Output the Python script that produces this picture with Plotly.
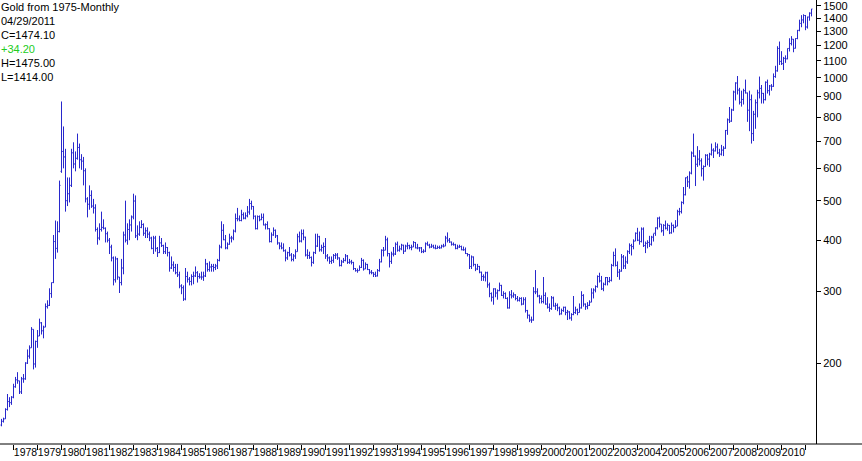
import plotly.graph_objects as go

# ---- monthly gold OHLC, Jul 1977 .. Apr 2011 ----
first_year, first_month = 1977, 7

opens = [
    141, 144, 146, 154, 161, 160,
    165, 175, 182, 181, 170, 183, 183, 200, 208, 218, 242, 199,
    226, 233, 251, 240, 245, 275, 277, 296, 315, 397, 382, 420,
    590, 660, 640, 500, 520, 545, 655, 615, 635, 675, 630, 625,
    592, 505, 490, 515, 485, 480, 425, 405, 425, 430, 428, 415,
    400, 385, 362, 320, 360, 325, 315, 342, 412, 400, 425, 436,
    456, 499, 410, 414, 430, 437, 416, 422, 414, 405, 382, 405,
    382, 373, 394, 388, 375, 384, 373, 342, 348, 343, 333, 329,
    309, 306, 287, 326, 321, 317, 326, 327, 333, 326, 325, 325,
    327, 350, 339, 344, 345, 343, 346, 357, 385, 423, 401, 383,
    391, 405, 405, 421, 452, 451, 447, 462, 453, 459, 469, 492,
    484, 458, 427, 457, 449, 455, 436, 437, 427, 397, 412, 423,
    410, 394, 387, 383, 377, 362, 373, 368, 359, 366, 375, 408,
    398, 415, 407, 368, 367, 363, 353, 373, 387, 408, 379, 384,
    386, 366, 362, 355, 357, 367, 368, 362, 347, 354, 357, 366,
    353, 354, 353, 341, 337, 337, 343, 357, 340, 349, 339, 334,
    333, 330, 327, 337, 354, 378, 378, 401, 371, 355, 370, 370,
    391, 378, 381, 389, 376, 387, 388, 384, 385, 395, 383, 383,
    383, 375, 376, 392, 389, 385, 387, 383, 382, 384, 383, 387,
    387, 405, 400, 396, 391, 390, 382, 385, 386, 379, 379, 371,
    369, 345, 364, 349, 340, 345, 334, 326, 325, 333, 311, 296,
    290, 304, 297, 301, 310, 293, 296, 288, 273, 294, 292, 294,
    288, 285, 288, 279, 286, 269, 262, 255, 255, 299, 299, 292,
    288, 283, 293, 279, 274, 272, 289, 276, 277, 273, 264, 269,
    274, 266, 267, 258, 263, 266, 270, 266, 273, 293, 279, 275,
    277, 282, 297, 302, 308, 326, 318, 304, 312, 324, 317, 319,
    347, 367, 347, 334, 336, 364, 346, 354, 375, 388, 386, 398,
    416, 400, 397, 426, 388, 393, 395, 391, 407, 416, 429, 453,
    438, 422, 435, 428, 435, 417, 435, 430, 433, 470, 470, 495,
    517, 569, 556, 584, 654, 643, 614, 632, 626, 599, 606, 646,
    632, 650, 665, 662, 677, 655, 650, 665, 672, 743, 789, 783,
    834, 923, 971, 933, 871, 885, 930, 918, 833, 884, 730, 814,
    869, 919, 942, 916, 884, 975, 930, 955, 953, 1007, 1040, 1180,
    1097, 1083, 1116, 1113, 1180, 1213, 1243, 1181, 1248, 1307, 1359, 1386,
    1421, 1332, 1409, 1439.9,
]

highs = [
    146, 147, 155, 168, 165, 166,
    178, 185, 190, 181, 185, 188, 201, 216, 221, 245, 242, 227,
    241, 257, 252, 247, 280, 285, 305, 315, 412, 447, 445, 560,
    875, 760, 670, 570, 570, 670, 695, 660, 730, 690, 650, 640,
    600, 510, 545, 530, 505, 490, 430, 440, 470, 450, 430, 420,
    405, 390, 365, 365, 362, 325, 360, 420, 500, 440, 450, 460,
    520, 515, 435, 445, 448, 440, 430, 430, 420, 408, 410, 410,
    385, 410, 405, 390, 395, 385, 375, 365, 355, 350, 350, 335,
    312, 310, 342, 335, 325, 330, 335, 345, 336, 332, 335, 335,
    360, 352, 355, 350, 350, 350, 360, 390, 445, 438, 412, 395,
    415, 410, 425, 465, 480, 460, 475, 468, 468, 485, 505, 500,
    485, 460, 460, 460, 465, 465, 440, 445, 428, 418, 430, 425,
    412, 395, 395, 393, 380, 375, 385, 372, 370, 380, 415, 420,
    425, 425, 408, 380, 375, 365, 375, 415, 415, 410, 390, 395,
    405, 370, 365, 365, 370, 372, 372, 363, 358, 362, 370, 368,
    360, 358, 354, 342, 341, 347, 362, 359, 353, 350, 340, 338,
    334, 335, 340, 360, 380, 385, 410, 406, 372, 375, 385, 395,
    397, 388, 392, 390, 390, 395, 390, 390, 398, 396, 392, 385,
    385, 380, 395, 397, 392, 392, 390, 390, 388, 388, 390, 392,
    410, 418, 405, 397, 395, 392, 390, 390, 388, 386, 384, 372,
    370, 367, 365, 350, 350, 346, 335, 330, 335, 335, 315, 298,
    305, 305, 303, 315, 311, 300, 298, 290, 300, 302, 298, 295,
    292, 290, 290, 290, 290, 270, 263, 260, 307, 338, 305, 294,
    293, 325, 298, 290, 280, 292, 291, 281, 280, 275, 272, 275,
    275, 270, 268, 265, 292, 275, 272, 280, 300, 295, 280, 282,
    285, 305, 305, 310, 328, 333, 327, 315, 325, 325, 325, 350,
    375, 382, 355, 340, 370, 368, 365, 378, 393, 392, 402, 418,
    429, 420, 430, 430, 397, 400, 410, 410, 415, 430, 455, 457,
    438, 438, 447, 440, 436, 442, 437, 448, 475, 480, 498, 540,
    570, 575, 590, 660, 730, 645, 680, 665, 635, 610, 650, 650,
    655, 690, 672, 695, 690, 670, 685, 680, 745, 795, 848, 840,
    930, 975, 1010, 945, 930, 940, 990, 920, 930, 910, 830, 885,
    935, 1007, 960, 918, 980, 990, 960, 965, 1025, 1070, 1195, 1227,
    1162, 1125, 1135, 1180, 1250, 1265, 1245, 1250, 1310, 1388, 1424, 1431,
    1425, 1412, 1447, 1475,
]

lows = [
    140, 143, 146, 153, 156, 158,
    164, 174, 178, 168, 168, 179, 182, 199, 205, 218, 193, 195,
    218, 233, 235, 230, 245, 272, 276, 289, 314, 360, 373, 418,
    585, 600, 470, 485, 495, 540, 600, 590, 630, 600, 595, 545,
    495, 455, 475, 480, 465, 420, 390, 400, 420, 425, 395, 395,
    370, 355, 310, 315, 320, 297, 310, 330, 395, 390, 400, 420,
    450, 405, 400, 410, 428, 410, 405, 405, 398, 380, 370, 375,
    364, 372, 385, 370, 370, 365, 335, 340, 335, 330, 325, 305,
    295, 284, 285, 315, 310, 310, 312, 325, 315, 322, 320, 318,
    325, 335, 335, 335, 335, 338, 340, 355, 382, 400, 380, 380,
    390, 395, 400, 418, 445, 445, 445, 450, 450, 455, 462, 475,
    450, 425, 425, 445, 448, 435, 425, 425, 395, 395, 410, 405,
    390, 380, 380, 375, 355, 358, 365, 355, 355, 360, 375, 395,
    395, 400, 365, 360, 360, 345, 350, 370, 385, 375, 375, 370,
    360, 355, 350, 350, 352, 360, 358, 345, 345, 352, 355, 350,
    350, 349, 338, 335, 333, 337, 342, 337, 340, 338, 330, 330,
    325, 325, 326, 335, 353, 365, 378, 365, 343, 350, 365, 368,
    375, 375, 378, 370, 375, 380, 380, 378, 385, 382, 380, 375,
    372, 372, 374, 388, 382, 383, 382, 380, 381, 381, 382, 384,
    387, 395, 394, 388, 388, 380, 380, 383, 378, 377, 370, 365,
    340, 340, 345, 336, 338, 332, 318, 318, 317, 306, 290, 283,
    278, 290, 286, 300, 292, 288, 287, 272, 272, 288, 289, 285,
    283, 283, 277, 278, 266, 257, 252, 251, 254, 295, 290, 280,
    280, 280, 278, 272, 267, 270, 275, 270, 268, 262, 263, 267,
    262, 255, 256, 254, 262, 264, 262, 266, 272, 275, 270, 271,
    276, 282, 288, 298, 306, 315, 302, 300, 310, 310, 315, 317,
    345, 345, 325, 320, 335, 340, 340, 350, 370, 367, 380, 398,
    398, 390, 395, 385, 372, 382, 385, 388, 397, 410, 425, 430,
    418, 410, 425, 422, 414, 415, 418, 428, 433, 460, 465, 490,
    515, 540, 535, 580, 640, 543, 605, 610, 573, 560, 605, 610,
    605, 645, 636, 660, 650, 640, 645, 643, 670, 725, 775, 780,
    830, 880, 910, 860, 850, 860, 915, 780, 740, 690, 700, 750,
    800, 890, 865, 865, 880, 915, 905, 930, 950, 1000, 1035, 1075,
    1075, 1045, 1088, 1110, 1160, 1200, 1155, 1180, 1243, 1300, 1330, 1360,
    1308, 1320, 1380, 1414,
]

closes = [
    144, 146, 154, 161, 160, 165,
    175, 182, 181, 170, 183, 183, 200, 208, 218, 242, 199, 226,
    233, 251, 240, 245, 275, 277, 296, 315, 397, 382, 420, 545,
    660, 640, 500, 520, 545, 655, 615, 635, 675, 630, 625, 592,
    505, 490, 515, 485, 480, 425, 405, 425, 430, 428, 415, 400,
    385, 362, 320, 360, 325, 315, 342, 412, 400, 425, 436, 456,
    499, 410, 414, 430, 437, 416, 422, 414, 405, 382, 405, 382,
    373, 394, 388, 375, 384, 373, 342, 348, 343, 333, 329, 309,
    306, 287, 326, 321, 317, 326, 327, 333, 326, 325, 325, 327,
    350, 339, 344, 345, 343, 346, 357, 385, 423, 401, 383, 391,
    405, 405, 421, 452, 451, 447, 462, 453, 459, 469, 492, 484,
    458, 427, 457, 449, 455, 436, 437, 427, 397, 412, 423, 410,
    394, 387, 383, 377, 362, 373, 368, 359, 366, 375, 408, 398,
    415, 407, 368, 367, 363, 353, 373, 387, 408, 379, 384, 386,
    366, 362, 355, 357, 367, 368, 362, 347, 354, 357, 366, 353,
    354, 353, 341, 337, 337, 343, 357, 340, 349, 339, 334, 333,
    330, 327, 337, 354, 378, 378, 401, 371, 355, 370, 370, 391,
    378, 381, 389, 376, 387, 388, 384, 385, 395, 383, 383, 383,
    375, 376, 392, 389, 385, 387, 383, 382, 384, 383, 387, 387,
    405, 400, 396, 391, 390, 382, 385, 386, 379, 379, 371, 369,
    345, 364, 349, 340, 345, 334, 326, 325, 333, 311, 296, 290,
    304, 297, 301, 310, 293, 296, 288, 273, 294, 292, 294, 288,
    285, 288, 279, 286, 269, 262, 255, 255, 299, 299, 292, 288,
    283, 293, 279, 274, 272, 289, 276, 277, 273, 264, 269, 274,
    266, 267, 258, 263, 266, 270, 266, 273, 293, 279, 275, 277,
    282, 297, 302, 308, 326, 318, 304, 312, 324, 317, 319, 347,
    367, 347, 334, 336, 364, 346, 354, 375, 388, 386, 398, 416,
    400, 397, 426, 388, 393, 395, 391, 407, 416, 429, 453, 438,
    422, 435, 428, 435, 417, 435, 430, 433, 470, 470, 495, 517,
    569, 556, 584, 654, 643, 614, 632, 626, 599, 606, 646, 632,
    650, 665, 662, 677, 655, 650, 665, 672, 743, 789, 783, 834,
    923, 971, 933, 871, 885, 930, 918, 833, 884, 730, 814, 869,
    919, 942, 916, 884, 975, 930, 955, 953, 1007, 1040, 1180, 1097,
    1083, 1116, 1113, 1180, 1213, 1243, 1181, 1248, 1307, 1359, 1386, 1421,
    1332, 1409, 1439.9, 1474.1,
]

y_ticks = [200, 300, 400, 500, 600, 700, 800, 900, 1000, 1100, 1200, 1300, 1400, 1500]
label_years = list(range(1978, 2011))
tick_years = list(range(1978, 2012))

info_lines = ["Gold from 1975-Monthly", "04/29/2011", "C=1474.10", "+34.20", "H=1475.00", "L=1414.00"]
info_colors = ["#000000", "#000000", "#000000", "#22cc22", "#000000", "#000000"]

assert len(opens) == len(highs) == len(lows) == len(closes)


def month_index(year, month):
    """Position of a calendar month on the monthly x axis."""
    return (year - first_year) * 12 + (month - first_month)


months = [month_index(first_year, first_month) + i for i in range(len(closes))]

BAR = "#2828cc"
FONT = "Arial, Liberation Sans, sans-serif"

fig = go.Figure(go.Ohlc(
    x=months, open=opens, high=highs, low=lows, close=closes,
    increasing=dict(line=dict(color=BAR, width=1)),
    decreasing=dict(line=dict(color=BAR, width=1)),
    tickwidth=0.5, hoverinfo="skip",
))

W, H = 862, 461
ML, MR, MT, MB = 0, 46, 0, 17
plot_w = W - ML - MR
plot_h = H - MT - MB

fig.update_layout(
    width=W, height=H, autosize=False,
    margin=dict(l=ML, r=MR, t=MT, b=MB, pad=0),
    paper_bgcolor="white", plot_bgcolor="white",
    showlegend=False,
    font=dict(family=FONT, size=11, color="black"),
    xaxis=dict(
        type="linear",
        range=[-0.75, 407.25],
        rangeslider=dict(visible=False),
        showgrid=False, zeroline=False, showline=False,
        tickmode="array",
        tickvals=[month_index(y, 7) for y in label_years],
        ticktext=[str(y) for y in label_years],
        ticks="", tickangle=0, automargin=False,
        ticklabeloverflow="allow",
        tickfont=dict(family=FONT, size=10.5, color="black"),
        minor=dict(tickmode="array",
                   tickvals=[month_index(y, 1) for y in tick_years],
                   ticks="outside", ticklen=5, tickcolor="black",
                   tickwidth=1, showgrid=False),
    ),
    yaxis=dict(
        type="log", side="right",
        range=[2.1028, 3.1906],
        showgrid=False, zeroline=False, automargin=False,
        showline=True, linecolor="black", linewidth=1,
        tickmode="array", tickvals=y_ticks, ticktext=[str(v) for v in y_ticks],
        ticks="outside", ticklen=4, tickcolor="black", tickwidth=1,
        ticklabeloverflow="allow",
        tickfont=dict(family=FONT, size=11, color="black"),
    ),
    shapes=[dict(type="line", xref="paper", yref="paper",
                 x0=0, x1=W / plot_w, y0=0, y1=0,
                 line=dict(color="black", width=1))],
)

line_y = [6.7, 21.0, 34.5, 49.0, 63.3, 77.3]
for txt, col, yc in zip(info_lines, info_colors, line_y):
    fig.add_annotation(
        text=txt, xref="paper", yref="paper", x=0, y=1 - yc / plot_h,
        xanchor="left", yanchor="middle", showarrow=False, borderpad=0,
        font=dict(family=FONT, size=11, color=col), xshift=0,
    )

fig.write_html(
    "out.html",
    config={"displayModeBar": False},
    post_script="document.body.style.margin='0';document.body.style.padding='0';",
)
